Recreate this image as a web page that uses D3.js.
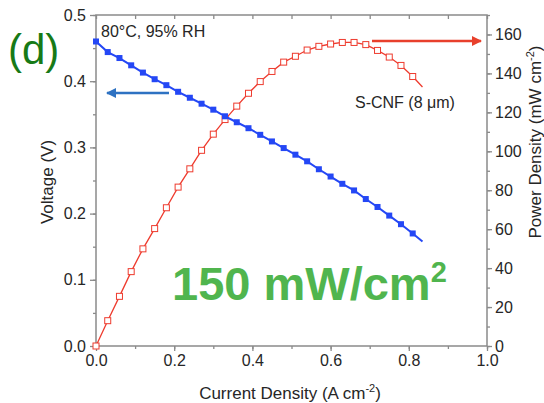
<!DOCTYPE html>
<html><head><meta charset="utf-8">
<script src="https://cdn.jsdelivr.net/npm/d3@7"></script>
<style>body{margin:0;background:#fff}svg{display:block}text{font-family:Arial,"Liberation Sans",sans-serif}</style>
</head><body>
<script>
const current = [0,0.03,0.06,0.09,0.12,0.15,0.18,0.21,0.24,0.27,0.30,0.33,0.36,0.39,0.42,0.45,0.48,0.51,0.54,0.57,0.60,0.63,0.66,0.69,0.72,0.75,0.78,0.81,0.835];
const voltage = [0.460,0.444,0.435,0.424,0.413,0.403,0.394,0.384,0.375,0.366,0.357,0.347,0.338,0.329,0.319,0.309,0.299,0.289,0.279,0.267,0.256,0.245,0.235,0.222,0.210,0.197,0.184,0.170,0.158];
const power = [0,13.0,25.5,38.2,49.9,60.3,71.0,81.6,91.0,100.5,108.8,116.3,123.2,129.8,135.8,141.0,145.8,148.8,152.0,153.9,155.1,155.9,155.9,154.8,151.8,148.4,144.1,138.4,133.0];
const xTicks = [0,0.2,0.4,0.6,0.8,1.0];
const yLTicks = [0,0.1,0.2,0.3,0.4,0.5];
const yRTicks = [0,20,40,60,80,100,120,140,160];

const W=544,H=403;
const svg=d3.select("body").append("svg").attr("width",W).attr("height",H);
const x=d3.scaleLinear().domain([0,1]).range([96,487]);
const yL=d3.scaleLinear().domain([0,0.5]).range([346,15]);
const yR=d3.scaleLinear().domain([0,170]).range([346,15]);
const axisCol="#8a8a8a", txtCol="#262626";
const fs=16, fsT=17;

function style(g){
  g.selectAll(".domain").remove();
  g.selectAll("line").attr("stroke",axisCol).attr("stroke-width",1.3);
  g.selectAll("text").attr("fill",txtCol).attr("font-size",fs);
}
const xMinor=d3.range(0,1.001,0.1).map(v=>+v.toFixed(2));
const yLMinor=d3.range(0,0.5001,0.05).map(v=>+v.toFixed(2));
const yRMinor=d3.range(0,170.1,10);

svg.append("g").attr("transform","translate(0,346)").call(d3.axisBottom(x).tickValues(xMinor).tickSize(3).tickFormat("")).call(style);
svg.append("g").attr("transform","translate(0,346)").call(d3.axisBottom(x).tickValues(xTicks).tickSize(5).tickPadding(4).tickFormat(d3.format(".1f"))).call(style);
svg.append("g").attr("transform","translate(0,15)").call(d3.axisBottom(x).tickValues(xMinor).tickSize(4).tickFormat("")).call(style);
svg.append("g").attr("transform","translate(96,0)").call(d3.axisLeft(yL).tickValues(yLMinor).tickSize(3).tickFormat("")).call(style);
svg.append("g").attr("transform","translate(96,0)").call(d3.axisLeft(yL).tickValues(yLTicks).tickSize(6).tickPadding(4).tickFormat(d3.format(".1f"))).call(style);
svg.append("g").attr("transform","translate(487,0)").call(d3.axisRight(yR).tickValues(yRMinor).tickSize(3).tickFormat("")).call(style);
svg.append("g").attr("transform","translate(487,0)").call(d3.axisRight(yR).tickValues(yRTicks).tickSize(5).tickPadding(3)).call(style);

svg.append("rect").attr("x",96).attr("y",15).attr("width",391).attr("height",331)
  .attr("fill","none").attr("stroke",axisCol).attr("stroke-width",1.5);

const idx=d3.range(current.length);
const red="#ee3b2e";
svg.append("path").datum(idx).attr("fill","none").attr("stroke",red).attr("stroke-width",1.3)
  .attr("d",d3.line().x(i=>x(current[i])).y(i=>yR(power[i])));
svg.selectAll(".pm").data(idx.slice(0,-1)).enter().append("rect")
  .attr("x",i=>x(current[i])-3).attr("y",i=>yR(power[i])-3).attr("width",6).attr("height",6)
  .attr("fill","#fff").attr("stroke",red).attr("stroke-width",1);
const blue="#2447f5";
svg.append("path").datum(idx).attr("fill","none").attr("stroke",blue).attr("stroke-width",2)
  .attr("d",d3.line().x(i=>x(current[i])).y(i=>yL(voltage[i])));
svg.selectAll(".vm").data(idx.slice(0,-1)).enter().append("rect")
  .attr("x",i=>x(current[i])-3).attr("y",i=>yL(voltage[i])-3).attr("width",6).attr("height",6)
  .attr("fill",blue);

const defs=svg.append("defs");
function mk(id,c){defs.append("marker").attr("id",id).attr("viewBox","0 0 10 10").attr("refX",9).attr("refY",5)
  .attr("markerWidth",4).attr("markerHeight",4).attr("markerUnits","strokeWidth").attr("orient","auto")
  .append("path").attr("d","M0,0L10,5L0,10z").attr("fill",c);}
mk("ab","#2e72c2"); mk("ar","#e8402c");
svg.append("line").attr("x1",169).attr("y1",93).attr("x2",107).attr("y2",93).attr("stroke","#2e72c2").attr("stroke-width",2.5).attr("marker-end","url(#ab)");
svg.append("line").attr("x1",372).attr("y1",41).attr("x2",481).attr("y2",41).attr("stroke","#e8402c").attr("stroke-width",2.5).attr("marker-end","url(#ar)");

svg.append("text").attr("x",101).attr("y",37).attr("font-size",fs).attr("fill",txtCol).text("80°C, 95% RH");
svg.append("text").attr("x",355).attr("y",108).attr("font-size",fs).attr("fill",txtCol).text("S-CNF (8 μm)");
svg.append("text").attr("x",8).attr("y",64).attr("font-size",42).attr("fill","#177a17").text("(d)");
const big=svg.append("text").attr("x",172).attr("y",300).attr("font-size",47).attr("font-weight","bold").attr("fill","#50b54e");
big.append("tspan").text("150 mW/cm");
big.append("tspan").attr("font-size",29).attr("dy",-18).text("2");

svg.append("text").attr("transform","translate(53,182) rotate(-90)").attr("text-anchor","middle").attr("font-size",fsT).attr("fill",txtCol).text("Voltage (V)");
const xl=svg.append("text").attr("x",290).attr("y",399).attr("text-anchor","middle").attr("font-size",fsT).attr("fill",txtCol);
xl.append("tspan").text("Current Density (A cm");
xl.append("tspan").attr("font-size",11).attr("dy",-7).text("-2");
xl.append("tspan").attr("dy",7).text(")");
const yl=svg.append("text").attr("transform","translate(541,142) rotate(-90)").attr("text-anchor","middle").attr("font-size",fsT).attr("fill",txtCol);
yl.append("tspan").text("Power Density (mW cm");
yl.append("tspan").attr("font-size",11).attr("dy",-7).text("-2");
yl.append("tspan").attr("dy",7).text(")");
</script>
</body></html>
